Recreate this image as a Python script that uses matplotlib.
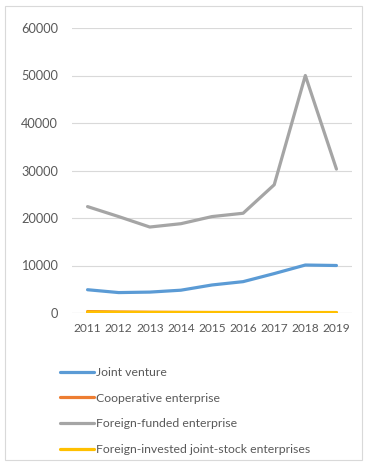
import matplotlib
matplotlib.use('Agg')
from matplotlib import pyplot as plt
from matplotlib.patches import Rectangle

plt.rcParams['font.family'] = ['Lato', 'DejaVu Sans']

years = [2011, 2012, 2013, 2014, 2015, 2016, 2017, 2018, 2019]
joint_venture = [4900, 4300, 4400, 4800, 5900, 6600, 8300, 10100, 10000]
cooperative = [300, 200, 150, 120, 100, 90, 80, 70, 60]
foreign_funded = [22400, 20300, 18100, 18800, 20300, 21000, 27000, 50000, 30300]
joint_stock = [200, 150, 120, 110, 100, 100, 100, 100, 100]

W, H = 367, 462
fig = plt.figure(figsize=(W / 100, H / 100), dpi=100)
ax = fig.add_axes([72 / W, (H - 313) / H, (352 - 72) / W, (313 - 28) / H])

x = list(range(len(years)))
lw = 2.3
ax.plot(x, joint_venture, color='#5B9BD5', lw=lw, label='Joint venture', solid_capstyle='round')
ax.plot(x, cooperative, color='#ED7D31', lw=lw, label='Cooperative enterprise', solid_capstyle='round')
ax.plot(x, foreign_funded, color='#A5A5A5', lw=lw, label='Foreign-funded enterprise', solid_capstyle='round')
ax.plot(x, joint_stock, color='#FFC000', lw=lw, label='Foreign-invested joint-stock enterprises',
        solid_capstyle='round')

ax.set_ylim(0, 60000)
ax.set_xlim(-0.5, len(years) - 0.5)
ax.set_yticks(range(0, 60001, 10000))
ax.set_xticks(x)
ax.set_xticklabels([str(y) for y in years])
ax.tick_params(length=0, labelcolor='#595959')
ax.tick_params(axis='x', labelsize=8.6, pad=7)
ax.tick_params(axis='y', labelsize=9.2, pad=10)
ax.grid(axis='y', color='#D9D9D9', lw=0.8)
ax.set_axisbelow(True)
for s in ax.spines.values():
    s.set_visible(False)
ax.axhline(0, color='#D9D9D9', lw=0.8, zorder=0)

fig.legend(loc='upper left', bbox_to_anchor=(55 / W, 1 - 362 / H), frameon=False,
           fontsize=8.8, labelcolor='#595959', handlelength=2.8, handletextpad=0.15,
           labelspacing=1.2, borderaxespad=0)

# outer chart border
fig.patches.append(Rectangle((5 / W, 2 / H), 357 / W, 454 / H, transform=fig.transFigure,
                             fill=False, edgecolor='#D9D9D9', lw=0.8))

plt.savefig('out.png', dpi=100)
